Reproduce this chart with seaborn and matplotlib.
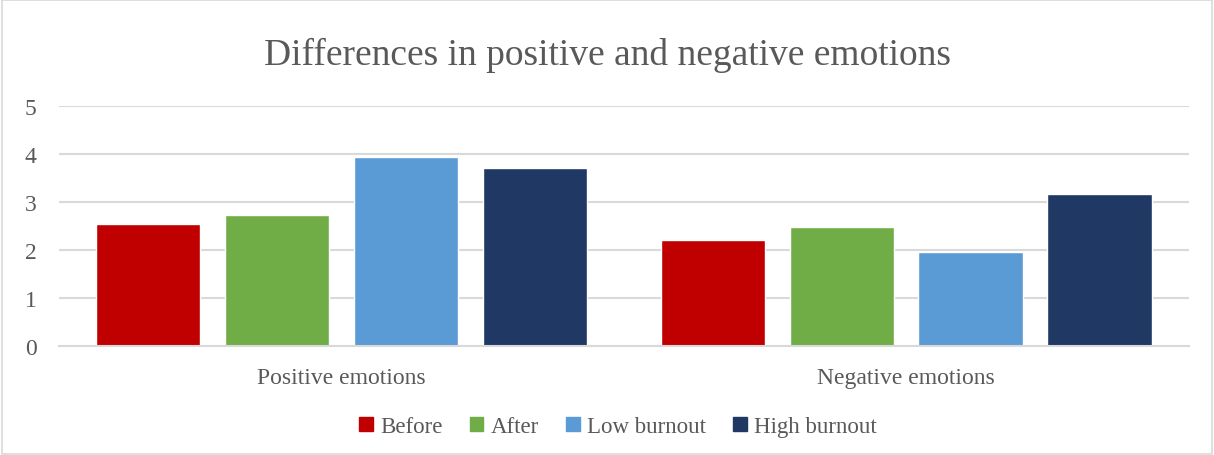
import matplotlib
matplotlib.use("Agg")
import matplotlib.pyplot as plt
import seaborn as sns
import pandas as pd
from matplotlib.patches import Rectangle

categories = ["Positive emotions", "Negative emotions"]
groups = ["Before", "After", "Low burnout", "High burnout"]
before = [2.55, 2.21]
after = [2.74, 2.49]
low_burnout = [3.94, 1.97]
high_burnout = [3.71, 3.16]
colors = ["#C00000", "#70AD47", "#5B9BD5", "#203864"]
y_ticks = [0, 1, 2, 3, 4, 5]

rows = []
for g, vals in zip(groups, [before, after, low_burnout, high_burnout]):
    for c, v in zip(categories, vals):
        rows.append({"category": c, "group": g, "value": v})
df = pd.DataFrame(rows)

sns.set_theme(style="white")
plt.rcParams["font.family"] = ["Liberation Serif", "DejaVu Serif"]
text_color = "#595959"

fig = plt.figure(figsize=(12.14, 4.56), dpi=100)
ax = fig.add_axes([0.0486, 0.239, 0.9305, 0.526])

sns.barplot(data=df, x="category", y="value", hue="group", order=categories,
            hue_order=groups, palette=colors, width=0.913, gap=0.19,
            saturation=1, ax=ax, legend=False, errorbar=None)

ax.set_ylim(0, 5)
ax.set_yticks(y_ticks)
ax.set_xlim(-0.5, 1.5)
ax.yaxis.grid(True, color="#d9d9d9", linewidth=1.5)
ax.set_axisbelow(True)
for s in ["top", "right", "left"]:
    ax.spines[s].set_visible(False)
ax.spines["bottom"].set_color("#d9d9d9")
ax.spines["bottom"].set_linewidth(1.5)
ax.tick_params(axis="both", length=0, labelsize=17, colors=text_color)
ax.tick_params(axis="x", pad=15)
ax.tick_params(axis="y", pad=16)
ax.set_xlabel("")
ax.set_ylabel("")

fig.text(0.5, 0.878, "Differences in positive and negative emotions",
         ha="center", va="center", fontsize=27, color=text_color)

handles = [Rectangle((0, 0), 1, 1, color=c) for c in colors]
fig.legend(handles, groups, loc="center", bbox_to_anchor=(0.509, 0.062),
           ncol=4, frameon=False, fontsize=16.5, labelcolor=text_color,
           handlelength=0.6, handleheight=0.6, handletextpad=0.3,
           columnspacing=1.2)

fig.patches.append(Rectangle((0.0015, 0.002), 0.997, 0.996, transform=fig.transFigure,
                             fill=False, edgecolor="#d9d9d9", linewidth=1.2))

fig.savefig("out.png", dpi=100)
